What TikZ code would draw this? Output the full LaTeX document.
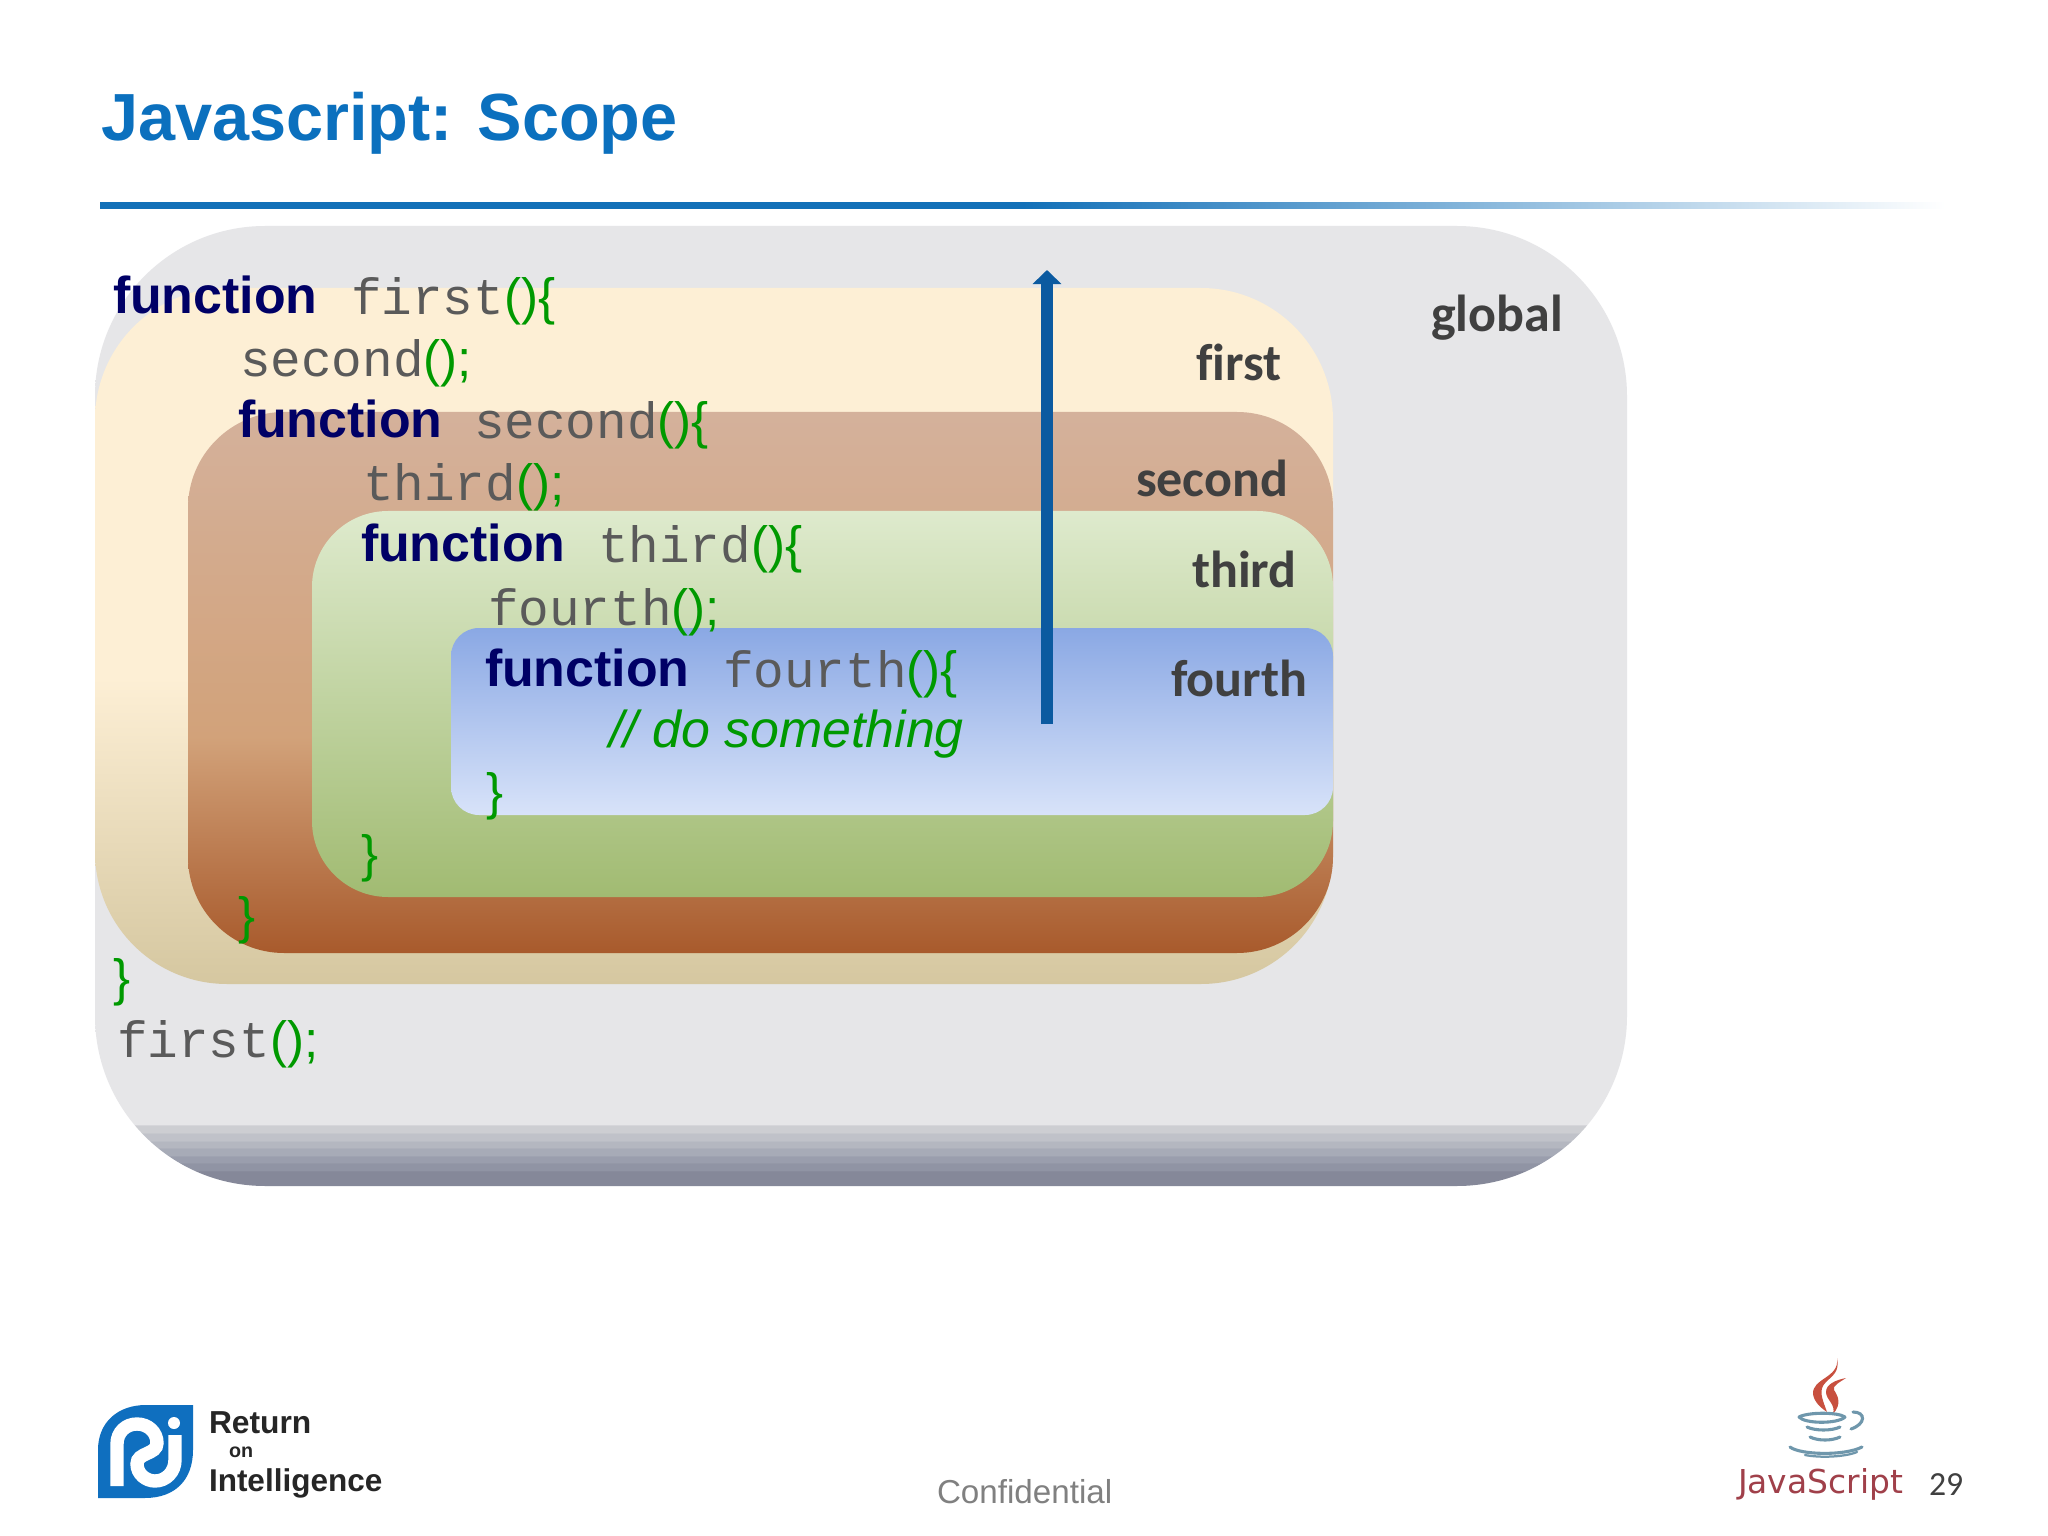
\documentclass[tikz,border=0pt]{standalone}
\usepackage{fontspec}
\setmainfont{Liberation Sans}
\newfontfamily\codefont{Liberation Mono}
\newfontfamily\labelfont[Ligatures=NoCommon]{Carlito}
\newfontfamily\cupfont{DejaVu Sans}
\usetikzlibrary{arrows.meta}
\definecolor{titleblue}{HTML}{0B70BE}
\definecolor{ruleblue}{HTML}{1270B8}
\definecolor{keynavy}{HTML}{000066}
\definecolor{codegray}{HTML}{5A5A5A}
\definecolor{codegreen}{HTML}{009900}
\definecolor{labelgray}{HTML}{404040}
\definecolor{arrowblue}{HTML}{0B5AA0}
\definecolor{logoblue}{HTML}{0F6FBF}
\definecolor{cupblue}{HTML}{6F97AC}
\definecolor{cupred}{HTML}{C8503F}
\definecolor{cuptext}{HTML}{A0404A}
\definecolor{bandA}{HTML}{858899}
\definecolor{bandB}{HTML}{9094A4}
\definecolor{bandC}{HTML}{9A9EAD}
\definecolor{bandD}{HTML}{A7ABB7}
\definecolor{bandE}{HTML}{B4B7C0}
\definecolor{bandF}{HTML}{C0C2C9}
\definecolor{bandG}{HTML}{CDCED2}
\definecolor{bandH}{HTML}{E6E6E8}
\definecolor{firstT}{HTML}{FDEFD5}
\definecolor{firstB}{HTML}{D5C7A0}
\definecolor{secondT}{HTML}{D4B19B}
\definecolor{secondM}{HTML}{D2A27A}
\definecolor{secondB}{HTML}{A85A2C}
\definecolor{thirdT}{HTML}{DEEACD}
\definecolor{thirdB}{HTML}{A1BB72}
\definecolor{fourthT}{HTML}{8AA8E4}
\definecolor{fourthB}{HTML}{D8E3F9}
\pgfdeclareverticalshading{globalfill}{100bp}{
  color(0bp)=(bandA); color(25bp)=(bandA);
  color(25.78bp)=(bandA); color(25.8bp)=(bandB);
  color(26.2bp)=(bandB); color(26.22bp)=(bandC);
  color(26.56bp)=(bandC); color(26.58bp)=(bandD);
  color(26.98bp)=(bandD); color(27bp)=(bandE);
  color(27.34bp)=(bandE); color(27.36bp)=(bandF);
  color(27.76bp)=(bandF); color(27.78bp)=(bandG);
  color(28.18bp)=(bandG); color(28.2bp)=(bandH);
  color(100bp)=(bandH)}
\pgfdeclareverticalshading{firstfill}{100bp}{color(0bp)=(firstB); color(25bp)=(firstB); color(47bp)=(firstT); color(100bp)=(firstT)}
\pgfdeclareverticalshading{secondfill}{100bp}{color(0bp)=(secondB); color(25bp)=(secondB); color(45bp)=(secondM); color(75bp)=(secondT); color(100bp)=(secondT)}
\pgfdeclareverticalshading{thirdfill}{100bp}{color(0bp)=(thirdB); color(25bp)=(thirdB); color(75bp)=(thirdT); color(100bp)=(thirdT)}
\pgfdeclareverticalshading{fourthfill}{100bp}{color(0bp)=(fourthB); color(25bp)=(fourthB); color(75bp)=(fourthT); color(100bp)=(fourthT)}
\pgfdeclarehorizontalshading{rulefill}{100bp}{color(0bp)=(ruleblue); color(50bp)=(ruleblue); color(75bp)=(white); color(100bp)=(white)}
\tikzset{
  txt/.style={anchor=base west, inner sep=0pt, outer sep=0pt},
  keyword/.style={txt, text=keynavy, font=\fontsize{36.9}{44}\selectfont\bfseries},
  code/.style={txt, text=codegray, font=\fontsize{36.3}{44}\selectfont\codefont},
  punct/.style={txt, text=codegreen, font=\fontsize{36.3}{44}\selectfont},
  scopelabel/.style={txt, text=labelgray, font=\fontsize{37}{44}\selectfont\labelfont\bfseries},
  brandtext/.style={txt, text=black!85, font=\bfseries},
  cupline/.style={cupblue, line width=2.2pt, line cap=round}
}
\newcommand{\pun}[1]{\textcolor{codegreen}{\rmfamily #1}}
\begin{document}
\begin{tikzpicture}[x=0.025cm,y=-0.025cm]
\def\boxGlobal{(95,226) rectangle (1627,1186)}
\def\boxFirst{(95,288) rectangle (1333,984)}
\def\boxSecond{(188,412) rectangle (1333,953)}
\def\boxThird{(312,511) rectangle (1333,897)}
\def\boxFourth{(451,628) rectangle (1333,815)}
\useasboundingbox (0,0) rectangle (2048,1536);
\fill[white] (0,0) rectangle (2048,1536);
\node[txt, text=titleblue, font=\fontsize{47.4}{56}\selectfont\bfseries] (title) at (101,141) {Javascript: Scope};
\shade[shading=rulefill] (100,203) rectangle (1945,209);
\shade[shading=globalfill, rounded corners=4.25cm] \boxGlobal;
\shade[shading=firstfill, rounded corners=3.3cm] \boxFirst;
\shade[shading=secondfill, rounded corners=2.4cm] \boxSecond;
\shade[shading=thirdfill, rounded corners=1.9cm] \boxThird;
\shade[shading=fourthfill, rounded corners=0.7cm] \boxFourth;
\coordinate (arrowtail) at (1047,724);
\coordinate (arrowhead) at (1047,270);
\draw[arrowblue, line width=9.2pt, -{Triangle[length=10pt,width=20pt]}] (arrowtail) -- (arrowhead);
\node[scopelabel] (global) at (1431,332) {global};
\node[scopelabel] (first) at (1196,381) {first};
\node[scopelabel] (second) at (1136,497) {second};
\node[scopelabel] (third) at (1192,588) {third};
\node[scopelabel] (fourth) at (1171,696) {fourth};
\node[keyword] (fnfirst) at (113,314) {function};
\node[code] (namefirst) at (351,315) {first\pun{()\{}};
\node[code] (callsecond) at (240,377) {second\pun{();}};
\node[keyword] (fnsecond) at (238,438) {function};
\node[code] (namesecond) at (474,439) {second\pun{()\{}};
\node[code] (callthird) at (363,501) {third\pun{();}};
\node[keyword] (fnthird) at (361,562) {function};
\node[code] (namethird) at (598,563) {third\pun{()\{}};
\node[code] (callfourth) at (488,625) {fourth\pun{();}};
\node[keyword] (fnfourth) at (485,686) {function};
\node[code] (namefourth) at (723,687) {fourth\pun{()\{}};
\node[punct, font=\fontsize{36.9}{44}\selectfont\itshape] (comment) at (609,747) {// do something};
\node[punct] (closefourth) at (486,809) {\}};
\node[punct] (closethird) at (361,871) {\}};
\node[punct] (closesecond) at (238,933) {\}};
\node[punct] (closefirst) at (113,995) {\}};
\node[code] (callfirst) at (117,1057) {first\pun{();}};
\fill[logoblue] (193,1405) -- (193,1450) .. controls (193,1480) and (175,1498) .. (145,1498) -- (98,1498) -- (98,1450) .. controls (98,1422) and (118,1405) .. (146,1405) -- cycle;
\draw[white, line width=9.5pt] (117,1486) -- (117,1444) .. controls (117,1432) and (126,1424) .. (137,1424) .. controls (148,1424) and (157,1432) .. (157,1443) .. controls (157,1455) and (137,1452) .. (137,1464) .. controls (137,1474) and (146,1481) .. (155,1481) .. controls (166,1481) and (175,1472) .. (175,1460) -- (175,1435);
\fill[white] (174,1423) circle (6);
\node[brandtext, font=\fontsize{22.6}{26}\selectfont\bfseries] (return) at (209,1433) {Return};
\node[brandtext, font=\fontsize{14}{16}\selectfont\bfseries] (on) at (229,1457) {on};
\node[brandtext, font=\fontsize{22.4}{26}\selectfont\bfseries] (intelligence) at (209,1491) {Intelligence};
\fill[cupred] (1837,1358) .. controls (1840,1378) and (1812,1378) .. (1813,1394) .. controls (1814,1402) and (1821,1408) .. (1827,1412) .. controls (1822,1398) and (1818,1390) .. (1826,1382) .. controls (1832,1376) and (1840,1372) .. (1837,1358) -- cycle;
\fill[cupred] (1846,1378) .. controls (1836,1380) and (1826,1384) .. (1826,1392) .. controls (1826,1400) and (1836,1404) .. (1833,1414) .. controls (1842,1404) and (1838,1396) .. (1834,1390) .. controls (1832,1386) and (1840,1382) .. (1846,1378) -- cycle;
\draw[cupline] (1799,1417) .. controls (1805,1424) and (1838,1424) .. (1845,1417);
\draw[cupline] (1799,1417) .. controls (1808,1412) and (1838,1412) .. (1845,1417);
\draw[cupline] (1853,1412) .. controls (1866,1412) and (1866,1424) .. (1851,1429);
\draw[cupline] (1807,1427) .. controls (1815,1431) and (1832,1431) .. (1840,1427);
\draw[cupline] (1810,1437) .. controls (1818,1441) and (1832,1441) .. (1840,1437);
\draw[cupline] (1790,1447) .. controls (1800,1455) and (1845,1456) .. (1862,1447);
\draw[cupline, line width=1.6pt] (1805,1455) .. controls (1820,1458) and (1845,1457) .. (1857,1452);
\node[txt, text=cuptext, font=\fontsize{23.4}{26}\selectfont\cupfont] (javascript) at (1738,1493) {JavaScript};
\node[txt, text=labelgray, font=\fontsize{24}{28}\selectfont\labelfont] (pagenum) at (1929,1495) {29};
\node[txt, text=black!50, font=\fontsize{23.6}{28}\selectfont] (confidential) at (937,1503) {Confidential};
\end{tikzpicture}
\end{document}
